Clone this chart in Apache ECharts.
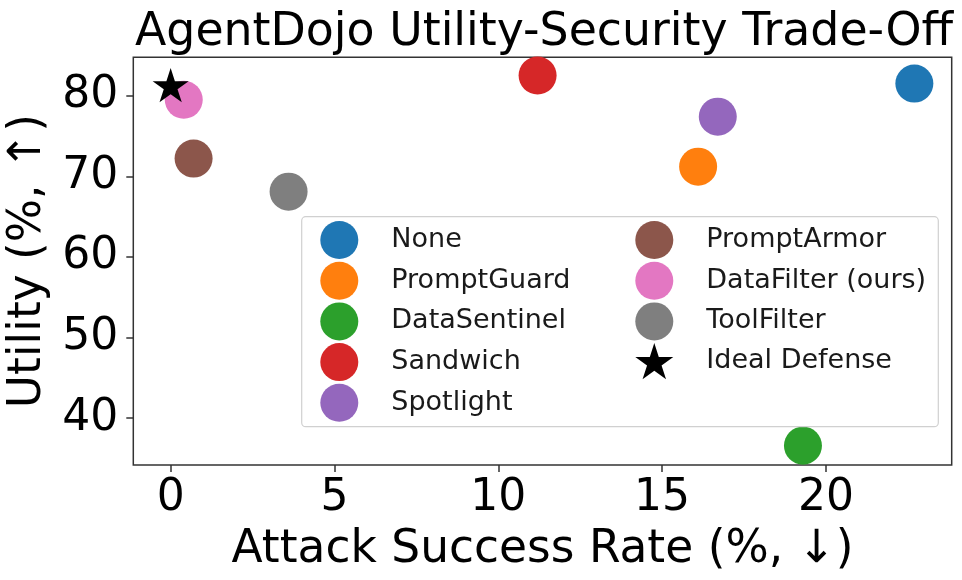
<!DOCTYPE html>
<html>
<head>
<meta charset="utf-8">
<script src="https://cdn.jsdelivr.net/npm/echarts@6/dist/echarts.min.js"></script>
<style>html,body{margin:0;padding:0;background:#fff}#c{width:962px;height:580px}</style>
</head>
<body>
<div id="c"></div>
<script>
const names = ['None','PromptGuard','DataSentinel','Sandwich','Spotlight','PromptArmor','DataFilter (ours)','ToolFilter','Ideal Defense'];
const asr = [22.7, 16.1, 19.3, 11.2, 16.7, 0.7, 0.4, 3.6, 0];
const utility = [81.5, 71.2, 36.6, 82.5, 77.4, 72.2, 79.5, 68.1, 81.3];
const colors = ['#1f77b4','#ff7f0e','#2ca02c','#d62728','#9467bd','#8c564b','#e377c2','#7f7f7f','#000000'];
const xTicks = [0, 5, 10, 15, 20];
const yTicks = [40, 50, 60, 70, 80];
const legendCol1 = names.slice(0, 5);
const legendCol2 = names.slice(5);

const FONT = 'DejaVu Sans';
const STAR = 'path://M50 0 L61.23 34.55 L97.55 34.55 L68.17 55.9 L79.39 90.45 L50 69.1 L20.61 90.45 L31.83 55.9 L2.45 34.55 L38.77 34.55 Z';

const series = names.map((n, i) => {
  const isStar = n === 'Ideal Defense';
  return {
    name: n,
    type: 'scatter',
    data: [[asr[i], utility[i]]],
    symbol: isStar ? STAR : 'circle',
    symbolKeepAspect: true,
    symbolSize: isStar ? 36 : 38,
    itemStyle: { color: colors[i], opacity: 1 },
    emphasis: { disabled: true },
    z: 2 + i * 0.01
  };
});

const legendBase = {
  orient: 'vertical',
  itemWidth: 38,
  itemHeight: 38,
  itemGap: 2.7,
  selectedMode: false,
  textStyle: { fontFamily: FONT, fontSize: 27, color: '#1a1a1a', padding: [0, 0, 0, 28] },
  padding: 0
};

const chart = echarts.init(document.getElementById('c'), null, { renderer: 'canvas' });
chart.setOption({
  animation: false,
  title: {
    text: 'AgentDojo Utility-Security Trade-Off',
    left: 544,
    textAlign: 'center',
    top: 10,
    padding: 0,
    textStyle: { fontFamily: FONT, fontSize: 45.8, fontWeight: 'normal', color: '#000' }
  },
  grid: {
    left: 133.3, right: 10.3, top: 57.3, bottom: 115,
    outerBoundsMode: 'none',
    containLabel: false,
    show: true, borderColor: '#333', borderWidth: 1.5, backgroundColor: 'transparent'
  },
  graphic: [{
    type: 'rect',
    shape: { x: 301.7, y: 216.7, width: 636.6, height: 210, r: 4 },
    style: { fill: 'rgba(255,255,255,0.8)', stroke: '#d0d0d0', lineWidth: 1.2 },
    z: 3
  }],
  legend: [
    Object.assign({}, legendBase, { data: legendCol1, left: 320.3, top: 221, z: 5 }),
    Object.assign({}, legendBase, { data: legendCol2, left: 635.3, top: 221, z: 5 })
  ],
  xAxis: {
    type: 'value',
    min: -1.14, max: 23.84,
    name: 'Attack Success Rate (%, ↓)',
    nameLocation: 'middle',
    nameGap: 62,
    nameTextStyle: { fontFamily: FONT, fontSize: 45.5, color: '#000' },
    axisLine: { show: false, onZero: false },
    splitLine: { show: false },
    axisTick: { show: true, length: 7, lineStyle: { color: '#333', width: 1.5 }, customValues: xTicks },
    axisLabel: { fontFamily: FONT, fontSize: 44, color: '#000', margin: 12, customValues: xTicks }
  },
  yAxis: {
    type: 'value',
    min: 34.2, max: 84.76,
    name: 'Utility (%, ↑)',
    nameLocation: 'middle',
    nameGap: 76,
    nameTextStyle: { fontFamily: FONT, fontSize: 45.5, color: '#000' },
    axisLine: { show: false, onZero: false },
    splitLine: { show: false },
    axisTick: { show: true, length: 7, lineStyle: { color: '#333', width: 1.5 }, customValues: yTicks },
    axisLabel: { fontFamily: FONT, fontSize: 44, color: '#000', margin: 15, customValues: yTicks }
  },
  series: series
});
</script>
</body>
</html>
